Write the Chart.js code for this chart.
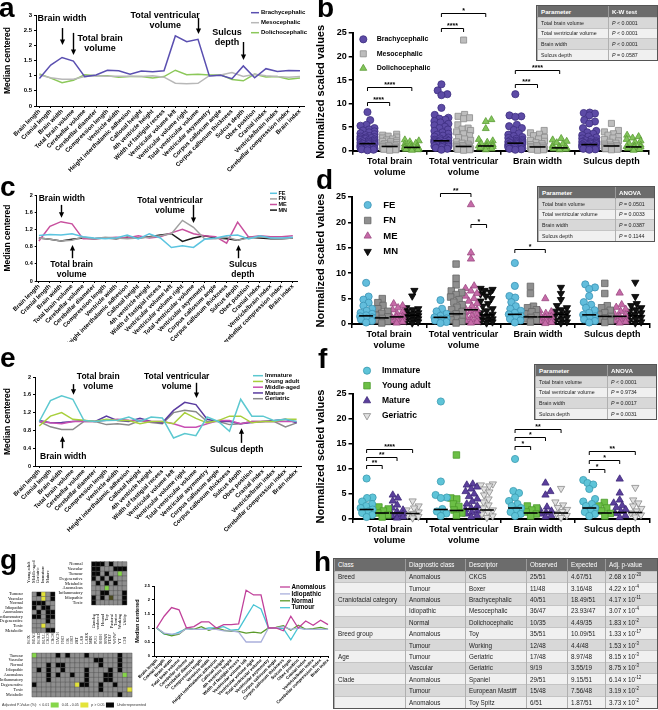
<!DOCTYPE html>
<html><head><meta charset="utf-8">
<script src="https://cdn.jsdelivr.net/npm/chart.js@4.4.1/dist/chart.umd.min.js"></script>
<style>
html,body{margin:0;padding:0;background:#fff}
body{width:658px;height:710px;position:relative;overflow:hidden;font-family:"Liberation Sans",Arial,sans-serif}
canvas{position:absolute;display:block}
.L{position:absolute;font-weight:bold;font-size:28px;line-height:28px;color:#000}
.pt{position:absolute;border-collapse:collapse;table-layout:fixed;outline:1.5px solid #555;color:#222}
.pt th{background:#6c6c6c;color:#fff;font-weight:bold;text-align:left;padding:0 0 0 3px;border-left:1px solid #9a9a9a;white-space:nowrap;overflow:hidden}
.pt td{padding:0 0 0 3px;border-left:1px solid #b0b0b0;border-top:1px solid #c4c4c4;white-space:nowrap;overflow:hidden}
.pt tr.o td{background:#d8d8d8}.pt tr.e td{background:#f0f0f0}
.pt sup{font-size:70%;line-height:0}
</style></head><body>
<canvas id="ca" width="312" height="172" style="left:0;top:0"></canvas>
<canvas id="cb" width="346" height="180" style="left:312px;top:0"></canvas>
<canvas id="cc" width="312" height="170" style="left:0;top:172px"></canvas>
<canvas id="cd" width="346" height="170" style="left:312px;top:182px"></canvas>
<canvas id="ce" width="312" height="190" style="left:0;top:342px"></canvas>
<canvas id="cf" width="346" height="194" style="left:312px;top:352px"></canvas>
<canvas id="cg1" width="60" height="82" style="left:0;top:555px"></canvas>
<canvas id="cg2" width="75" height="75" style="left:58px;top:555px"></canvas>
<canvas id="cg3" width="146" height="78" style="left:0;top:632px"></canvas>
<canvas id="cgl" width="203" height="135" style="left:128px;top:575px"></canvas>
<div class="L" style="left:-1px;top:-6px">a</div>
<div class="L" style="left:317px;top:-6px">b</div>
<div class="L" style="left:0;top:173px">c</div>
<div class="L" style="left:316px;top:166px">d</div>
<div class="L" style="left:0;top:344px">e</div>
<div class="L" style="left:318px;top:345px">f</div>
<div class="L" style="left:0;top:546px">g</div>
<div class="L" style="left:314px;top:548px">h</div>
<div id="tables"></div>
<script>
// ---------------- DATA ----------------
const measures = ['Brain length','Cranial length','Brain width','Total brain volume','Cerebellar volume','Cerebellar diameter','Compression length','Ventricle width','Height interthalamic adhesion','Callosal height','4th ventricle height','Width of fastigial recess','Ventricular volume left','Ventricular volume right','Total ventricular volume','Ventricular asymmetry','Corpus callosum angle','Corpus callosum thickness','Sulcus depth','Obex position','Cranial index','Ventricle/brain index','Cerebellar compression index','Brain index'];

// panel a: median centered by craniofacial category
const aBrachy = [0.91,1.35,1.60,1.48,0.97,1.02,1.18,1.16,1.05,1.15,1.13,1.16,2.31,2.12,2.20,0.99,1.01,0.90,1.32,0.93,1.23,1.14,1.17,1.16];
const aMeso   = [1.02,0.93,0.88,0.88,0.97,1.00,0.98,0.98,0.98,0.97,1.00,0.95,0.75,0.73,0.75,1.00,1.02,1.10,0.97,1.05,1.00,0.97,0.95,0.97];
const aDolicho= [1.06,0.92,0.77,0.85,1.03,1.00,1.00,0.95,0.97,0.97,0.92,0.97,1.18,1.03,1.05,1.02,1.03,0.87,0.83,1.05,0.96,0.97,0.88,0.92];

// panel c: by sex / neuter status
const cFE = [1.06,1.08,1.07,1.10,1.03,1.00,0.98,1.00,1.07,0.98,1.10,1.00,0.78,0.82,0.78,0.97,1.00,1.05,1.07,0.98,1.05,1.00,1.00,1.02];
const cFN = [1.00,0.97,0.93,0.95,1.02,0.98,1.02,1.00,0.98,1.00,1.02,1.05,1.10,1.41,1.25,0.98,0.98,1.02,0.95,1.00,1.03,1.00,0.98,1.00];
const cME = [0.93,1.27,1.38,1.33,0.98,0.98,1.00,1.02,1.00,1.05,1.00,1.03,1.12,1.20,1.10,1.05,1.03,0.88,1.37,1.02,1.05,1.03,1.03,1.05];
const cMN = [1.00,0.97,0.93,0.97,1.00,0.98,1.00,0.98,1.02,1.00,1.03,1.07,1.10,0.92,1.00,1.05,1.00,0.98,0.95,1.02,1.00,0.98,0.98,1.00];

// panel e: by age group
const eImmature = [1.00,1.47,1.58,1.50,1.02,1.00,1.02,1.03,1.10,1.00,1.10,1.08,0.63,0.73,0.68,1.10,1.00,0.78,1.50,1.12,1.12,1.02,1.05,1.00];
const eYoung    = [0.90,1.12,1.20,1.05,1.03,1.00,1.05,1.02,1.02,0.95,1.00,1.00,0.95,1.20,1.07,0.97,1.02,1.12,1.12,0.97,1.00,1.00,1.05,1.05];
const eMiddle   = [1.00,0.97,0.95,1.00,1.00,1.00,1.03,1.05,1.03,1.02,1.00,1.00,0.95,0.87,0.87,0.95,1.02,1.02,0.95,1.00,1.00,1.00,1.00,1.00];
const eMature   = [1.02,0.97,0.98,1.00,1.02,1.00,1.12,1.02,1.00,1.07,1.00,0.97,1.25,1.43,1.38,1.05,1.00,1.00,0.95,0.98,1.00,1.02,1.05,0.97];
const eGeriatric= [1.00,0.88,0.82,0.82,1.00,1.00,0.93,0.95,0.92,1.02,0.98,0.95,1.20,1.25,1.22,1.00,1.00,0.93,0.95,1.00,1.00,1.00,0.88,0.97];

// panel g line: by diagnostic class
const gAnomalous = [1.00,1.42,1.73,1.65,1.00,1.05,1.22,1.22,1.00,1.12,1.12,1.15,2.35,2.18,2.18,1.00,1.00,0.90,1.42,1.00,1.25,1.10,1.28,1.12];
const gIdiopathic= [1.00,0.82,0.78,0.80,0.98,0.95,0.95,0.95,0.95,0.90,0.90,0.85,0.50,0.50,0.50,1.00,1.00,1.05,0.95,1.00,0.95,0.95,0.95,0.95];
const gNormal    = [1.00,0.80,0.72,0.78,1.00,0.95,1.05,0.92,1.00,0.92,0.88,0.88,0.82,0.85,0.82,1.00,1.02,1.08,0.92,1.10,0.95,0.98,1.02,0.95];
const gTumour    = [1.00,0.78,0.75,0.85,0.98,0.95,0.95,1.00,1.00,1.05,0.92,0.95,1.40,1.83,1.68,1.00,1.00,0.98,0.58,1.02,0.95,0.95,0.95,0.95];

// scatter panels: categories
const scatterCats = [['Total brain','volume'],['Total ventricular','volume'],['Brain width'],['Sulcus depth']];

// panel b values [TBV, TVV, BW, SD]
const bBrachy = [
 [8.2,6.5,5.5,5.3,4.8,4.5,4.3,4.1,3.9,3.7,3.5,3.3,3.1,3.0,2.9,2.8,2.7,2.6,2.5,2.4,2.3,2.2,2.1,2.0,1.9,1.8,1.7,1.6,1.5,1.5,1.4,1.3,1.2,1.1,1.0,0.9,0.8,0.7,0.6,0.5,0.4,0.3,0.2,0.1],
 [14.1,12.8,12.0,11.8,9.1,7.6,7.0,6.8,6.6,6.3,6.0,5.7,5.4,5.1,4.8,4.5,4.2,3.9,3.6,3.4,3.2,3.0,2.8,2.6,2.4,2.3,2.2,2.1,2.0,1.9,1.8,1.7,1.6,1.4,1.3,1.2,1.1,1.0,0.9,0.8,0.6,0.4,0.2],
 [12.0,7.5,7.3,7.2,5.5,5.2,4.8,4.4,3.7,3.4,3.1,2.9,2.7,2.5,2.3,2.2,2.1,2.0,1.9,1.8,1.7,1.6,1.5,1.4,1.3,1.2,1.1,1.0,0.9,0.8,0.7,0.6,0.5,0.4,0.3,0.2],
 [8.1,8.0,7.9,7.5,6.5,6.2,5.8,4.8,4.2,3.9,3.6,3.3,3.0,2.8,2.6,2.4,2.2,2.0,1.9,1.8,1.7,1.6,1.5,1.4,1.3,1.2,1.1,1.0,0.9,0.8,0.7,0.6,0.5,0.4,0.3,0.2]];
const bMeso = [
 [3.5,3.3,3.1,2.9,2.7,2.5,2.3,2.1,2.0,1.9,1.7,1.5,1.4,1.3,1.2,1.1,1.0,0.9,0.8,0.7,0.6,0.5,0.4,0.3,0.2,0.1],
 [23.5,7.7,7.3,7.0,6.8,5.5,4.8,4.6,4.3,4.0,3.6,3.2,2.8,2.5,2.2,1.9,1.6,1.4,1.2,1.1,1.0,0.9,0.8,0.7,0.6,0.5,0.4,0.3,0.2,0.1],
 [4.3,3.8,3.5,3.2,2.8,2.5,2.2,2.0,1.7,1.5,1.3,1.1,1.0,0.9,0.8,0.7,0.6,0.5,0.4,0.3,0.2,0.1],
 [5.8,4.3,4.0,3.6,3.3,3.0,2.7,2.4,2.1,1.8,1.6,1.4,1.2,1.1,1.0,0.9,0.8,0.7,0.6,0.5,0.4,0.3,0.2]];
const bDolicho = [
 [2.3,2.1,1.9,1.6,1.4,1.2,1.0,0.9,0.8,0.7,0.6,0.5,0.4,0.3,0.2,0.1],
 [6.6,6.2,4.7,2.4,2.1,1.8,1.5,1.3,1.1,1.0,0.9,0.8,0.6,0.4,0.2],
 [2.6,2.3,2.0,1.7,1.4,1.1,0.9,0.8,0.7,0.6,0.5,0.4,0.3,0.2],
 [3.3,3.0,2.7,2.4,2.1,1.8,1.5,1.2,1.0,0.9,0.8,0.7,0.5,0.3,0.1]];
const bBrachyMed = [1.5,2.1,1.6,1.3], bMesoMed = [0.9,0.9,0.8,1.0], bDolichoMed = [0.7,1.0,0.6,0.8];
// brackets: [category, groupA, groupB, height, stars]
const bBrackets = [[0,0,1,10.4,'****'],[0,0,2,13.5,'****'],[1,0,1,26.1,'****'],[1,0,2,29.2,'*'],[2,0,1,14.1,'***'],[2,0,2,17.1,'****']];
const bTest = ['K-W test', ['Total brain volume','< 0.0001'],['Total ventricular volume','< 0.0001'],['Brain width','< 0.0001'],['Sulcus depth','= 0.0587']];

// panel d values
const dFE = [[8.1,5.4,4.8,4.2,3.6,3.0,2.6,2.2,2.0,1.7,1.5,1.3,1.1,0.9,0.6,0.3],
 [4.7,3.0,2.5,2.0,1.6,1.3,1.1,0.9,0.7,0.4,0.2],
 [12.0,7.5,5.5,5.2,4.3,3.5,3.0,2.6,2.2,1.9,1.6,1.3,1.0,0.7,0.3],
 [7.8,7.2,6.9,5.5,4.3,3.8,3.2,2.7,2.2,1.8,1.5,1.2,0.9,0.6,0.3]];
const dFN = [[5.0,4.2,3.6,3.0,2.5,2.1,1.7,1.4,1.1,0.8,0.5,0.2],
 [11.8,9.0,7.7,6.5,6.2,5.8,5.3,4.8,4.3,3.8,3.3,2.8,2.4,2.0,1.7,1.4,1.1,0.8,0.5,0.2],
 [7.4,6.0,3.5,3.2,2.8,2.4,2.0,1.6,1.3,1.0,0.7,0.4],
 [8.0,6.0,3.6,3.2,2.7,2.2,1.8,1.5,1.2,0.9,0.6,0.3]];
const dME = [[4.0,3.6,3.2,2.8,2.4,2.0,1.7,1.5,1.4,1.2,1.0,0.8,0.6,0.4,0.2],
 [23.5,14.0,12.8,7.5,7.0,6.5,6.0,5.5,5.0,4.5,4.0,3.5,3.0,2.8,2.5,2.2,1.9,1.6,1.3,1.0,0.8,0.6,0.4,0.2],
 [5.0,2.7,2.4,2.1,1.8,1.5,1.3,1.1,0.9,0.7,0.5,0.3,0.1],
 [6.1,3.8,3.3,2.9,2.5,2.1,1.8,1.5,1.2,1.0,0.8,0.6,0.4,0.2]];
const dMN = [[6.6,5.5,3.2,3.0,2.8,2.5,2.2,2.0,1.8,1.6,1.4,1.2,1.0,0.8,0.6,0.4,0.2],
 [7.0,6.8,6.6,6.3,5.9,5.5,5.0,4.5,4.0,3.5,3.0,2.6,2.2,1.9,1.6,1.3,1.0,0.8,0.6,0.4,0.2],
 [7.2,6.0,4.8,3.6,3.2,2.8,2.5,2.2,1.9,1.6,1.3,1.0,0.7,0.4,0.2],
 [8.2,5.4,4.0,3.6,3.2,2.8,2.5,2.2,1.9,1.6,1.3,1.0,0.7,0.4,0.2]];
const dFEMed = [1.6,1.3,1.9,1.8], dFNMed = [1.2,2.0,1.4,1.5], dMEMed = [1.4,2.8,1.4,1.5], dMNMed = [1.7,1.8,1.9,1.6];
const dBrackets = [[1,0,2,25.7,'**'],[1,2,3,19.7,'*'],[2,0,2,14.7,'*']];
const dTest = ['ANOVA', ['Total brain volume','= 0.0501'],['Total ventricular volume','= 0.0033'],['Brain width','= 0.0387'],['Sulcus depth','= 0.1144']];

// panel f values
const fImmature = [[8.1,4.3,4.2,3.5,3.0,2.6,2.2,1.9,1.5,1.2,0.8,0.4],
 [23.5,7.5,4.8,4.3,4.2,2.0,1.5,1.1,0.6],
 [12.0,5.6,5.2,4.3,3.6,3.0,2.6,2.2,1.8,1.4,1.0,0.6],
 [7.8,7.2,6.9,6.0,4.0,3.5,3.0,2.6,2.2,1.8,1.4,1.0,0.6]];
const fYoung = [[2.4,2.0,1.6,1.2,0.8,0.4],[12.8,4.2,4.0,3.0,2.5,1.8,1.2,0.7],[2.6,2.2,1.8,1.4,1.0,0.6],[3.3,2.6,2.2,1.6,1.1,0.6]];
const fMature = [[4.8,4.2,3.6,2.8,2.2,1.8,1.5,1.2,1.0,0.8,0.6,0.4,0.2],
 [7.0,6.8,6.4,6.0,5.5,5.0,4.5,4.0,3.5,3.0,2.6,2.2,1.9,1.6,1.3,1.0,0.7,0.4],
 [7.2,5.5,4.8,2.4,2.0,1.6,1.3,1.0,0.7,0.4],
 [8.0,5.2,3.8,3.2,2.7,2.3,1.9,1.5,1.1,0.7,0.3]];
const fGeriatric = [[3.6,2.6,2.2,1.8,1.4,1.1,0.8,0.5,0.2],
 [7.0,6.8,6.6,6.0,5.4,4.8,4.0,3.4,2.8,2.2,1.8,1.4,1.0,0.6,0.3],
 [6.1,3.4,2.8,2.3,1.9,1.5,1.1,0.7,0.3],
 [6.3,3.8,3.2,2.6,2.1,1.6,1.2,0.8,0.4]];
const fImmMed = [1.9,1.9,2.2,2.2], fYoungMed = [1.2,1.7,1.2,1.2], fMatMed = [1.2,2.0,1.3,1.3], fGerMed = [1.1,1.8,1.2,1.3];
const fBrackets = [[0,0,1,10.8,'**'],[0,0,2,12.5,'**'],[0,0,3,14.1,'****'],[2,0,1,14.7,'*'],[2,0,2,16.5,'*'],[2,0,3,18.0,'**'],[3,0,1,10.1,'*'],[3,0,2,11.8,'*'],[3,0,3,13.7,'**']];
const fTest = ['ANOVA', ['Total brain volume','< 0.0001'],['Total ventricular volume','= 0.9734'],['Brain width','= 0.0017'],['Sulcus depth','= 0.0031']];

// panel g heatmaps (0 underrepresented/absent grey, 1 black, 2 green, 3 yellow, 4 dark olive)
const diagRowsA = ['Tumour','Vascular','Normal','Idiopathic','Anomalous','Inflammatory','Degenerative','Toxic','Metabolic'];
const ageCols = ['Young adult','Middle-aged','Geriatric','Immature','Mature'];
const ageMatrix = [[0,1,3,0,1],[0,0,3,0,1],[1,1,1,0,0],[1,0,1,1,0],[0,1,0,1,1],[1,1,0,1,1],[0,0,0,1,0],[0,0,3,0,0],[0,0,0,1,1]];
const diagRowsB = ['Normal','Vascular','Tumour','Degenerative','Metabolic','Anomalous','Inflammatory','Idiopathic','Toxic'];
const groupCols = ['Gundog','Crossbreed','Hound','Toy','Pastoral','Terrier','Working','Utility'];
const groupMatrix = [[1,1,1,0,1,0,0,0],[1,1,0,0,0,1,1,1],[1,1,0,1,0,0,2,0],[1,0,1,0,1,0,0,0],[0,1,0,1,0,1,0,0],[0,0,0,2,0,0,0,0],[0,0,1,1,0,0,0,1],[1,0,1,0,4,0,0,1],[1,0,0,0,0,0,0,1]];
const breedCols = ['BOX','BEAG','BORD','BULL','CKCS','CROS','DACH','FBD','GR','GSD','JRT','LAB','LABX','MIN','PUG','SHIH','SPAN','STAF','WHWT','YT','CHI'];
const breedMatrix = [
 [2,0,0,0,0,1,0,1,0,0,0,1,0,0,0,0,0,0,1,0,0],
 [0,0,0,0,0,0,0,0,0,0,0,0,0,1,1,0,0,0,1,0,0],
 [0,0,0,1,0,1,1,0,0,0,0,0,0,0,1,0,0,0,1,0,0],
 [0,1,0,1,0,0,1,0,0,0,0,1,0,0,0,0,1,0,1,0,0],
 [0,0,0,1,0,1,0,0,1,0,0,1,0,0,0,1,1,0,0,2,0],
 [0,0,0,1,0,0,0,0,0,0,0,1,0,0,0,1,1,0,0,0,0],
 [1,0,0,0,0,0,0,0,0,3,1,1,0,0,1,0,0,1,0,0,0],
 [0,0,0,0,0,0,0,0,0,0,0,0,0,0,1,0,0,0,0,0,3],
 [0,0,0,0,0,0,0,0,0,0,0,0,0,0,0,0,0,0,1,0,0]];

// panel h table
const hHeader = ['Class','Diagnostic class','Descriptor','Observed','Expected','Adj. p-value'];
const hClass = ['Breed','','Craniofacial category','','','Breed group','','Age','','Clade','',''];
const hDiag = ['Anomalous','Tumour','Anomalous','Idiopathic','Normal','Anomalous','Tumour','Tumour','Vascular','Anomalous','Tumour','Anomalous'];
const hDesc = ['CKCS','Boxer','Brachycephalic','Mesocephalic','Dolichocephalic','Toy','Working','Geriatric','Geriatric','Spaniel','European Mastiff','Toy Spitz'];
const hObs = ['25/51','11/48','40/51','36/47','10/35','35/51','12/48','17/48','9/19','29/51','15/48','6/51'];
const hExp = ['4.67/51','3.16/48','18.49/51','23.93/47','4.49/35','10.09/51','4.4/48','8.97/48','3.55/19','9.15/51','7.56/48','1.87/51'];
const hMant = ['2.68','4.22','4.17','3.07','1.83','1.33','1.53','8.15','8.75','6.14','3.19','3.73'];
const hExpo = [-20,-4,-11,-4,-2,-17,-3,-3,-3,-12,-2,-2];

// ---------------- RENDERING ----------------
const F = '"Liberation Sans", Arial, sans-serif';
const SERIF = '"Liberation Serif", "Times New Roman", serif';
Chart.defaults.font.family = F;
Chart.defaults.color = '#000';
Chart.defaults.animation = false;
Chart.defaults.responsive = false;
Chart.defaults.plugins.legend.display = false;
Chart.defaults.plugins.tooltip.enabled = false;

function fixAxis(sz){ return s => { if (s.isHorizontal()) s.height = sz; else s.width = sz; s.paddingLeft = s.paddingRight = s.paddingTop = s.paddingBottom = 0; }; }
function intTicks(a,b){ return s => { const t=[]; for(let v=a; v<=b; v++) t.push({value:v}); s.ticks=t; }; }

function drawMarker(ctx, style, rot, r, x, y){
  if (Chart.helpers && Chart.helpers.drawPoint) { Chart.helpers.drawPoint(ctx, {pointStyle:style, rotation:rot||0, radius:r, borderWidth:0.8}, x, y); return; }
  ctx.beginPath(); ctx.arc(x,y,r,0,Math.PI*2); ctx.fill(); ctx.stroke();
}

const overlayPlugin = { id:'overlay', afterDraw(chart, args, o){
  const ctx = chart.ctx, xs = chart.scales.x, ys = chart.scales.y; ctx.save();
  if (o.lineLegend){ const L = o.lineLegend; ctx.font = `bold ${L.size}px ${F}`; ctx.textBaseline='middle'; ctx.textAlign='left';
    chart.data.datasets.forEach((d,i)=>{ const y = L.y + i*L.dy; ctx.strokeStyle=d.borderColor; ctx.lineWidth=d.borderWidth; ctx.beginPath(); ctx.moveTo(L.x,y); ctx.lineTo(L.x+L.len,y); ctx.stroke(); ctx.fillStyle='#000'; ctx.fillText(d.label, L.x+L.len+L.gap, y); }); }
  (o.texts||[]).forEach(t=>{ ctx.font=`bold ${t.size}px ${F}`; ctx.textAlign='center'; ctx.textBaseline='middle'; ctx.fillStyle='#000';
    t.lines.forEach((ln,k)=>ctx.fillText(ln, xs.getPixelForValue(t.x), ys.getPixelForValue(t.y)+k*t.lh)); });
  (o.arrows||[]).forEach(a=>{ const x = Math.round(xs.getPixelForValue(a.x))+0.5, y1 = ys.getPixelForValue(a.from), y2 = ys.getPixelForValue(a.to); const dir = Math.sign(y2-y1);
    ctx.strokeStyle='#000'; ctx.lineWidth=1.4; ctx.beginPath(); ctx.moveTo(x,y1); ctx.lineTo(x,y2-dir*4); ctx.stroke();
    ctx.fillStyle='#000'; ctx.beginPath(); ctx.moveTo(x,y2); ctx.lineTo(x-2.6,y2-dir*5.5); ctx.lineTo(x+2.6,y2-dir*5.5); ctx.closePath(); ctx.fill(); });
  ctx.restore(); } };

function makeLine(id, series, cfg){
  return new Chart(document.getElementById(id), {
    type:'line',
    data:{datasets: series.map(s=>({label:s.label, data:s.values.map((v,i)=>({x:i,y:v})), borderColor:s.color, borderWidth:cfg.lw, pointRadius:0, tension:0, fill:false}))},
    options:{
      layout:{padding:cfg.pad},
      scales:{
        x:{type:'linear', min:cfg.xMin, max:cfg.xMax, afterBuildTicks:intTicks(0,measures.length-1), afterFit:fixAxis(cfg.xH),
           ticks:{autoSkip:false, minRotation:45, maxRotation:45, font:{size:cfg.xFont, weight:cfg.xWeight||'bold'}, padding:0, callback:v=>measures[v]},
           grid:{drawOnChartArea:false, tickLength:2, color:'#000'}, border:{color:'#000', width:1}},
        y:{min:0, max:cfg.yMax, afterFit:fixAxis(cfg.yW),
           ticks:{stepSize:cfg.yStep, font:{size:cfg.yFont, weight:'bold'}, padding:2, callback:v=>+(+v).toFixed(1)},
           grid:{drawOnChartArea:false, tickLength:2, color:'#000'}, border:{color:'#000', width:1},
           title:{display:true, text:'Median centered', font:{size:cfg.titleFont, weight:'bold'}, padding:{top:cfg.titlePad, bottom:0}}}
      },
      plugins:{overlay:cfg.overlay}
    },
    plugins:[overlayPlugin]
  });
}

makeLine('ca', [{label:'Brachycephalic',values:aBrachy,color:'#5a4fb0'},{label:'Mesocephalic',values:aMeso,color:'#b8b8b8'},{label:'Dolichocephalic',values:aDolicho,color:'#8cc85a'}],
 {lw:1.5, pad:{left:0,top:15,right:7.5,bottom:0}, xMin:-0.3, xMax:23.4, xH:66, yW:36, yMax:3, yStep:0.5, xFont:6, yFont:6, titleFont:8.5, titlePad:3,
  overlay:{lineLegend:{x:251,y:12.7,dy:10,len:8,gap:2,size:6},
   texts:[{lines:['Brain width'],x:2.0,y:2.9,lh:10,size:9},{lines:['Total brain','volume'],x:5.36,y:2.24,lh:10,size:9},{lines:['Total ventricular','volume'],x:11.1,y:2.97,lh:9.5,size:9},{lines:['Sulcus','depth'],x:16.56,y:2.41,lh:10,size:9}],
   arrows:[{x:2,from:2.57,to:2.01},{x:3,from:2.41,to:1.68},{x:14,from:2.90,to:2.37},{x:18,from:2.11,to:1.52}]}});

makeLine('cc', [{label:'FE',values:cFE,color:'#5bc4e0'},{label:'FN',values:cFN,color:'#a0a0a0'},{label:'ME',values:cME,color:'#c8509e'},{label:'MN',values:cMN,color:'#1a1a1a'}],
 {lw:1.5, pad:{left:0,top:23,right:14.2,bottom:0}, xMin:-0.2, xMax:23.45, xH:61, yW:36.7, yMax:2, yStep:0.2, xFont:6, yFont:5.5, titleFont:8.5, titlePad:3,
  overlay:{lineLegend:{x:270,y:21.3,dy:5.6,len:7,gap:1.5,size:5.5},
   texts:[{lines:['Brain width'],x:2.08,y:1.92,lh:10,size:8.5},{lines:['Total brain','volume'],x:2.96,y:0.37,lh:9.5,size:8.5},{lines:['Total ventricular','volume'],x:11.87,y:1.87,lh:10,size:8.5},{lines:['Sulcus','depth'],x:18.48,y:0.37,lh:9.5,size:8.5}],
   arrows:[{x:2,from:1.77,to:1.47},{x:3,from:0.53,to:0.84},{x:14,from:1.77,to:1.35},{x:18,from:0.53,to:0.84}]}});

makeLine('ce', [{label:'Immature',values:eImmature,color:'#5cc8d0'},{label:'Young adult',values:eYoung,color:'#a8cf3c'},{label:'Middle-aged',values:eMiddle,color:'#c850b4'},{label:'Mature',values:eMature,color:'#5a3ca0'},{label:'Geriatric',values:eGeriatric,color:'#8a8a8a'}],
 {lw:1.5, pad:{left:0,top:35,right:10.1,bottom:0}, xMin:-0.38, xMax:23.47, xH:66, yW:35, yMax:2, yStep:0.2, xFont:6, yFont:5.5, titleFont:8.5, titlePad:3,
  overlay:{lineLegend:{x:253,y:33.7,dy:5.75,len:10,gap:2,size:6},
   texts:[{lines:['Total brain','volume'],x:5.27,y:2.01,lh:10,size:8.5},{lines:['Brain width'],x:2.14,y:0.22,lh:10,size:8.5},{lines:['Total ventricular','volume'],x:12.28,y:2.01,lh:10,size:8.5},{lines:['Sulcus depth'],x:17.64,y:0.36,lh:10,size:8.5}],
   arrows:[{x:3,from:1.84,to:1.60},{x:2,from:0.40,to:0.67},{x:14,from:1.87,to:1.53},{x:18,from:0.52,to:0.85}]}});

makeLine('cgl', [{label:'Anomalous',values:gAnomalous,color:'#c0409a'},{label:'Idiopathic',values:gIdiopathic,color:'#aab0dc'},{label:'Normal',values:gNormal,color:'#5a9a2a'},{label:'Tumour',values:gTumour,color:'#48c4d4'}],
 {lw:1.3, pad:{left:0,top:11,right:2.2,bottom:0}, xMin:-0.36, xMax:23.1, xH:54, yW:26, yMax:2.5, yStep:0.5, xFont:4.3, yFont:4, titleFont:5.5, titlePad:6,
  overlay:{lineLegend:{x:152,y:12,dy:6.9,len:10,gap:1.5,size:6.3}}});

// ---- beeswarm (layout of overlapping points, computed from values) ----
function swarm(yp, diam, half){
  const placed=[], out=new Array(yp.length);
  const order = yp.map((v,i)=>i).sort((a,b)=>yp[b]-yp[a]);
  for (const i of order){
    const y=yp[i], cands=[0];
    for (const p of placed){ const dy=Math.abs(p.y-y); if (dy<diam){ const dx=Math.sqrt(diam*diam-dy*dy); cands.push(p.x+dx,p.x-dx);} }
    let best=null, bs=Infinity;
    for (const c of cands){ if (Math.abs(c)>half) continue; if (placed.every(p=>(p.x-c)**2+(p.y-y)**2>=diam*diam-0.01) && Math.abs(c)<bs){best=c;bs=Math.abs(c);} }
    if (best===null){ let bo=Infinity; for (let c=-half;c<=half+0.001;c+=0.5){ let ov=0; for(const p of placed){const d=Math.hypot(p.x-c,p.y-y); if(d<diam) ov+=diam-d;} if(ov<bo-1e-6){bo=ov;best=c;} } }
    placed.push({x:best,y}); out[i]=best;
  }
  return out;
}

const decoPlugin = { id:'deco', afterDraw(chart, a, o){
  const ctx=chart.ctx, xs=chart.scales.x, ys=chart.scales.y; ctx.save();
  if (o.legend){ const L=o.legend; let k=0;
    chart.data.datasets.forEach(d=>{ if(!d.isGroup) return; const y=L.y+k*L.dy; k++;
      ctx.fillStyle=d.pointBackgroundColor; ctx.strokeStyle=d.pointBorderColor; ctx.lineWidth=0.8;
      drawMarker(ctx, d.pointStyle, d.pointRotation, d.pointRadius, L.x, y);
      ctx.fillStyle='#000'; ctx.font=`bold ${L.size}px ${F}`; ctx.textAlign='left'; ctx.textBaseline='middle'; ctx.fillText(d.label, L.tx, y); }); }
  (o.brackets||[]).forEach(b=>{ const x1=xs.getPixelForValue(b[0]+o.offs[b[1]]), x2=xs.getPixelForValue(b[0]+o.offs[b[2]]), y=Math.round(ys.getPixelForValue(b[3]))+0.5;
    ctx.strokeStyle='#000'; ctx.lineWidth=1; ctx.beginPath(); ctx.moveTo(x1,y+o.tick); ctx.lineTo(x1,y); ctx.lineTo(x2,y); ctx.lineTo(x2,y+o.tick); ctx.stroke();
    ctx.fillStyle='#000'; ctx.font=`bold ${o.bfs}px ${F}`; ctx.textAlign='center'; ctx.textBaseline='alphabetic'; ctx.fillText(b[4], (x1+x2)/2, y+o.bfs*0.15-2); });
  ctx.restore(); } };

function makeScatter(id, groups, offs, cfg){
  const ds=[];
  groups.forEach((g,gi)=>ds.push({label:g.label, isGroup:true, order:2, clip:false, showLine:false,
    data:g.values.flatMap((arr,ci)=>arr.map(v=>({x:ci+offs[gi], y:v, c:ci}))),
    pointStyle:g.style, pointRotation:g.rot||0, pointRadius:g.r, pointBackgroundColor:g.fill, pointBorderColor:g.stroke, pointBorderWidth:0.8}));
  groups.forEach((g,gi)=>ds.push({label:g.label+' median', order:0, clip:false, showLine:false,
    data:g.median.map((m,ci)=>({x:ci+offs[gi], y:m})), pointStyle:'line', pointRadius:cfg.medR, pointBorderColor:'#000', pointBorderWidth:1.6}));
  const chart = new Chart(document.getElementById(id), {
    type:'scatter', data:{datasets:ds},
    options:{
      layout:{padding:cfg.pad},
      scales:{
        x:{type:'linear', min:-0.5, max:3.5, afterBuildTicks:s=>{ const t=[]; for(let v=-0.5; v<=3.5; v+=0.5) t.push({value:v}); s.ticks=t; }, afterFit:fixAxis(cfg.xH),
           ticks:{autoSkip:false, minRotation:0, maxRotation:0, font:{size:9, weight:'bold', lineHeight:1.25}, padding:1, callback:v=>Number.isInteger(v)?scatterCats[v]:''},
           grid:{drawOnChartArea:false, tickLength:4, lineWidth:1.5, color:c=>(c.tick && !Number.isInteger(c.tick.value))?'#000':'rgba(0,0,0,0)'},
           border:{color:'#000', width:2}},
        y:{min:0, max:25, afterFit:fixAxis(cfg.yW),
           ticks:{stepSize:5, font:{size:9, weight:'bold'}, padding:2},
           grid:{drawOnChartArea:false, tickLength:4, lineWidth:1.5, color:'#000'}, border:{color:'#000', width:2},
           title:{display:true, text:'Normalized scaled values', font:{size:11, weight:'bold'}, padding:{top:2, bottom:0}}}
      },
      plugins:{deco:{legend:cfg.legend, brackets:cfg.brackets, offs, tick:cfg.tick, bfs:cfg.bfs}}
    },
    plugins:[decoPlugin]
  });
  const xs=chart.scales.x, ys=chart.scales.y, ppu=xs.getPixelForValue(1)-xs.getPixelForValue(0);
  groups.forEach((g,gi)=>{ const d=chart.data.datasets[gi].data;
    g.values.forEach((arr,ci)=>{ const idx=d.map((p,i)=>i).filter(i=>d[i].c===ci);
      const off=swarm(idx.map(i=>ys.getPixelForValue(d[i].y)), cfg.diam, cfg.half);
      idx.forEach((i,k)=>{ d[i].x = ci+offs[gi]+off[k]/ppu; }); }); });
  chart.update();
  return chart;
}

makeScatter('cb', [
  {label:'Brachycephalic', values:bBrachy, median:bBrachyMed, style:'circle', r:3.6, fill:'#5d4ba6', stroke:'#3e2f80'},
  {label:'Mesocephalic', values:bMeso, median:bMesoMed, style:'rect', r:4.3, fill:'#bdbdbd', stroke:'#8c8c8c'},
  {label:'Dolichocephalic', values:bDolicho, median:bDolichoMed, style:'triangle', r:4, fill:'#82c55a', stroke:'#5c9c36'}],
  [-0.3,0,0.3],
  {pad:{left:0,top:33,right:3,bottom:0}, yW:40.7, xH:29.3, medR:8, diam:6, half:7,
   legend:{x:51.3, tx:64.7, y:39.3, dy:14.5, size:7}, brackets:bBrackets, tick:3.5, bfs:7});

makeScatter('cd', [
  {label:'FE', values:dFE, median:dFEMed, style:'circle', r:3.6, fill:'#62bddc', stroke:'#3b93b5'},
  {label:'FN', values:dFN, median:dFNMed, style:'rect', r:4.6, fill:'#8f8f8f', stroke:'#666'},
  {label:'ME', values:dME, median:dMEMed, style:'triangle', r:4.2, fill:'#c66aa8', stroke:'#9a4a82'},
  {label:'MN', values:dMN, median:dMNMed, style:'triangle', rot:180, r:4.2, fill:'#111', stroke:'#000'}],
  [-0.31,-0.1,0.1,0.31],
  {pad:{left:0,top:15,right:3,bottom:0}, yW:40, xH:28, medR:7, diam:6, half:6,
   legend:{x:55.7, tx:71.3, y:23, dy:15.5, size:9.5}, brackets:dBrackets, tick:3.5, bfs:7});

makeScatter('cf', [
  {label:'Immature', values:fImmature, median:fImmMed, style:'circle', r:3.6, fill:'#5ec4d8', stroke:'#3a9ab0'},
  {label:'Young adult', values:fYoung, median:fYoungMed, style:'rect', r:4.6, fill:'#6cbf46', stroke:'#4a9a2a'},
  {label:'Mature', values:fMature, median:fMatMed, style:'triangle', r:4.2, fill:'#5b3f9c', stroke:'#3f2a78'},
  {label:'Geriatric', values:fGeriatric, median:fGerMed, style:'triangle', rot:180, r:4.2, fill:'#e0e0e0', stroke:'#8a8a8a'}],
  [-0.31,-0.1,0.1,0.31],
  {pad:{left:0,top:42,right:3,bottom:0}, yW:40.5, xH:27, medR:7, diam:6, half:6,
   legend:{x:55, tx:70, y:18.7, dy:15, size:8.5}, brackets:fBrackets, tick:3.5, bfs:7});

// ---- heatmaps ----
const heatColors = ['#8e8e8e','#060606','#86d64a','#e3e33a','#4a4a1e'];
const heatLegendPlugin = { id:'heatLegend', afterDraw(chart,a,o){ if(!o.items) return; const ctx=chart.ctx; ctx.save(); ctx.font=`3.6px ${F}`; ctx.textBaseline='middle'; ctx.textAlign='left';
  let x=o.x; o.items.forEach(it=>{ ctx.fillStyle='#333'; ctx.fillText(it.t, x, o.y); x+=ctx.measureText(it.t).width+1.5; ctx.fillStyle=heatColors[it.c]; ctx.fillRect(x, o.y-2.5, it.w, 5); x+=it.w+3; }); ctx.restore(); } };
function makeHeat(id, rows, cols, mat, cfg){
  const pts=[]; mat.forEach((r,ri)=>r.forEach((v,ci)=>pts.push({x:ci,y:ri,v})));
  return new Chart(document.getElementById(id), {
    type:'scatter',
    data:{datasets:[{data:pts, clip:false, pointStyle:'rect',
      pointBackgroundColor:c=>heatColors[c.raw ? c.raw.v : 0], pointBorderColor:'#4a4a4a', pointBorderWidth:0.4,
      pointRadius:c=>{ const ca=c.chart.chartArea; if(!ca) return 2; return Math.max(ca.width/cols.length, ca.height/rows.length)*0.7071; }}]},
    options:{
      layout:{padding:cfg.pad},
      scales:{
        x:{position:cfg.xPos, min:-0.5, max:cols.length-0.5, afterBuildTicks:intTicks(0,cols.length-1), afterFit:fixAxis(cfg.xH),
           ticks:{autoSkip:false, minRotation:90, maxRotation:90, font:{size:cfg.fs, family:SERIF}, padding:1, callback:v=>cols[v]}, grid:{display:false}, border:{display:false}},
        y:{min:-0.5, max:rows.length-0.5, reverse:true, afterBuildTicks:intTicks(0,rows.length-1), afterFit:fixAxis(cfg.yW),
           ticks:{autoSkip:false, font:{size:cfg.fs, family:SERIF}, padding:1, callback:v=>rows[v]}, grid:{display:false}, border:{display:false}}
      },
      plugins:{heatLegend:cfg.legend||{}}
    },
    plugins:[heatLegendPlugin]
  });
}
makeHeat('cg1', diagRowsA, ageCols, ageMatrix, {pad:{left:0,top:0,right:5,bottom:3}, xPos:'top', xH:37, yW:32, fs:4.4});
makeHeat('cg2', diagRowsB, groupCols, groupMatrix, {pad:{left:0,top:6.7,right:6.3,bottom:0}, xPos:'bottom', xH:25, yW:33.7, fs:4.4});
makeHeat('cg3', diagRowsA, breedCols, breedMatrix, {pad:{left:0,top:0,right:14,bottom:13}, xPos:'top', xH:21, yW:32, fs:4.2,
  legend:{x:2, y:73, items:[{t:'Adjusted P-Value (%):  < 0.01',c:2,w:8},{t:'0.01 - 0.05',c:3,w:8},{t:'p > 0.05',c:1,w:8},{t:'Underrepresented/absent',c:0,w:8}]}});

// ---- tables ----
function testTable(t, left, top, w1, w2, rowH){
  let h=`<table class="pt" style="left:${left}px;top:${top}px;width:${w1+w2}px;font-size:5.3px"><colgroup><col style="width:${w1}px"><col style="width:${w2}px"></colgroup>`;
  h+=`<tr style="height:${rowH+1}px"><th style="font-size:6.2px">Parameter</th><th style="font-size:6.2px">${t[0]}</th></tr>`;
  for(let i=1;i<t.length;i++) h+=`<tr class="${i%2?'o':'e'}" style="height:${rowH}px"><td>${t[i][0]}</td><td><i>P</i> ${t[i][1]}</td></tr>`;
  return h+'</table>';
}
let html='';
html+=testTable(bTest,537,6,71,48,10.5);
html+=testTable(dTest,538,187,77,38,10.5);
html+=testTable(fTest,535,365,72,48,10.5);
let ht=`<table class="pt" style="left:334px;top:559px;width:322px;font-size:6.3px"><colgroup>${[71,60,61,41,38,51].map(w=>`<col style="width:${w}px">`).join('')}</colgroup>`;
ht+=`<tr style="height:12px">${hHeader.map(x=>`<th style="font-weight:normal">${x}</th>`).join('')}</tr>`;
hDiag.forEach((d,i)=>{ ht+=`<tr class="${i%2?'e':'o'}" style="height:11.4px"><td>${hClass[i]}</td><td>${d}</td><td>${hDesc[i]}</td><td>${hObs[i]}</td><td>${hExp[i]}</td><td>${hMant[i]} x 10<sup>${hExpo[i]}</sup></td></tr>`; });
ht+='</table>';
html+=ht;
document.getElementById('tables').innerHTML=html;
</script>
</body></html>
